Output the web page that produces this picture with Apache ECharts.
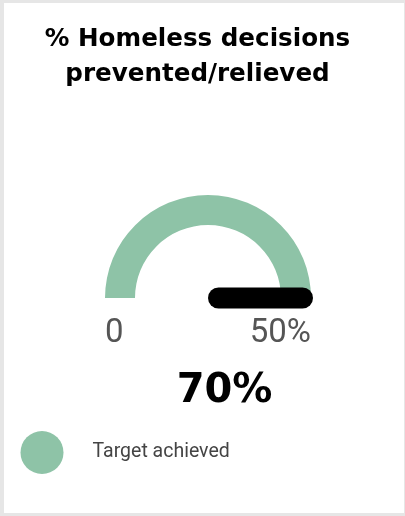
<!DOCTYPE html>
<html>
<head>
<meta charset="utf-8">
<script src="https://cdn.jsdelivr.net/npm/echarts@6/dist/echarts.min.js"></script>
<style>
  html, body { margin: 0; padding: 0; background: #e6e6e6; }
  #chart { position: absolute; left: 4px; top: 3px; width: 400px; height: 510px; background: #fff; }
</style>
</head>
<body>
<div id="chart"></div>
<script>
const seriesName = 'Target achieved';
const gaugeMin = 0;
const gaugeMax = 50;
const achievedValue = [70];
const tickLabels = ['0', '50%'];

const green = '#8ec3a7';
const chart = echarts.init(document.getElementById('chart'));

chart.setOption({
  animation: false,
  title: {
    text: '% Homeless decisions\nprevented/relieved',
    left: 188.5,
    top: 14,
    textAlign: 'center',
    textStyle: {
      fontFamily: 'DejaVu Sans',
      fontWeight: 'bold',
      fontSize: 24.6,
      lineHeight: 35,
      color: '#000'
    }
  },
  legend: {
    left: 11.5,
    top: 423,
    itemWidth: 43,
    itemHeight: 43,
    icon: 'circle',
    data: [{ name: seriesName, itemStyle: { color: green, borderWidth: 0 } }],
    textStyle: {
      fontFamily: 'Roboto',
      fontSize: 19.5,
      color: '#444',
      padding: [0, 0, 0, 24]
    }
  },
  series: [
    {
      type: 'gauge',
      name: seriesName,
      center: [204, 295],
      radius: 103,
      startAngle: 180,
      endAngle: 0,
      min: gaugeMin,
      max: gaugeMax,
      splitNumber: tickLabels.length - 1,
      axisLine: {
        lineStyle: { width: 30, color: [[1, green]] }
      },
      axisTick: { show: false },
      splitLine: { show: false, length: 0 },
      axisLabel: {
        distance: -10,
        fontFamily: 'Roboto',
        fontSize: 33,
        lineHeight: 72,
        color: '#555',
        formatter: v => '\n' + tickLabels[Math.round((v - gaugeMin) / (gaugeMax - gaugeMin) * (tickLabels.length - 1))]
      },
      pointer: {
        icon: 'path://M10,0 A10,10 0 0 1 20,10 L20,90 A10,10 0 0 1 10,100 A10,10 0 0 1 0,90 L0,10 A10,10 0 0 1 10,0 Z',
        length: 105,
        width: 21,
        offsetCenter: [0, 0],
        itemStyle: { color: '#000' }
      },
      itemStyle: { color: '#000' },
      anchor: { show: false },
      title: { show: false },
      detail: {
        offsetCenter: [16.5, 94],
        formatter: '{value}%',
        fontFamily: 'DejaVu Sans',
        fontWeight: 'bold',
        fontSize: 40,
        color: '#000'
      },
      data: achievedValue.map(v => ({ value: v, name: seriesName }))
    }
  ]
});
</script>
</body>
</html>
